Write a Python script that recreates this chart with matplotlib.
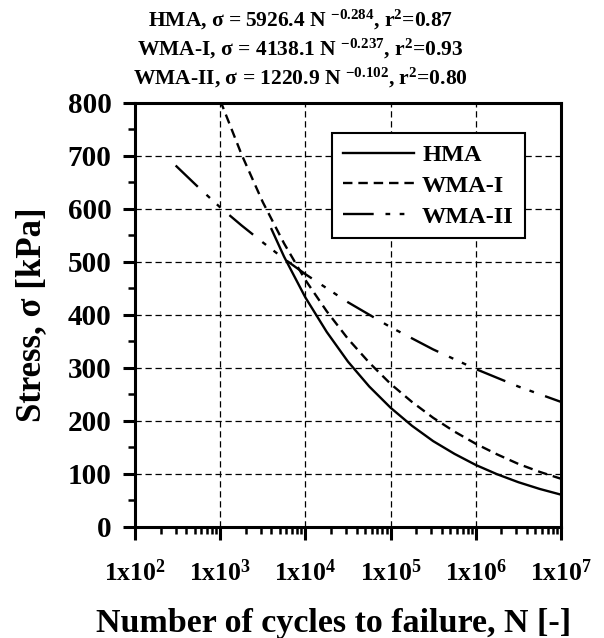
import numpy as np
import matplotlib
matplotlib.use("Agg")
import matplotlib.pyplot as plt
from matplotlib.ticker import LogLocator, FuncFormatter, NullFormatter, MultipleLocator

plt.rcParams['font.family'] = ['Liberation Serif', 'DejaVu Serif']
plt.rcParams['font.weight'] = 'bold'
plt.rcParams['mathtext.default'] = 'regular'

# values
n_hma = [4000, 5620, 1e4, 1.78e4, 3.16e4, 5.62e4, 1e5, 1.78e5, 3.16e5, 5.62e5,
         1e6, 1.78e6, 3.16e6, 5.62e6, 1e7]
s_hma = [562, 510, 433, 368, 312, 265, 225, 191, 162, 138, 117, 99.5, 84.5, 71.8, 61]

n_wma1 = [1e3, 1780, 3160, 5620, 1e4, 1.78e4, 3.16e4, 5.62e4, 1e5, 1.78e5, 3.16e5,
          5.62e5, 1e6, 1.78e6, 3.16e6, 5.62e6, 1e7]
s_wma1 = [805, 703, 613, 535, 466, 407, 355, 310, 270, 236, 206, 180, 157, 137, 119, 104, 91]

n_wma2 = [300, 562, 1e3, 1780, 3160, 5620, 1e4, 3.16e4, 1e5, 3.16e5, 1e6, 3.16e6, 1e7]
s_wma2 = [682, 640, 603, 569, 537, 506, 477, 424, 377, 335, 298, 265, 236]

fits = ["HMA, σ = 5926.4 N $^{-0.284}$, r$^{2}$=0.87",
        "WMA-I, σ = 4138.1 N $^{-0.237}$, r$^{2}$=0.93",
        "WMA-II, σ = 1220.9 N $^{-0.102}$, r$^{2}$=0.80"]

fig = plt.figure(figsize=(6.04, 6.38), dpi=100)
ax = fig.add_axes([0.2235, 0.174, 0.7053, 0.6646])

ax.plot(n_hma, s_hma, color='k', lw=1.7, ls='-', label='HMA')
ax.plot(n_wma1, s_wma1, color='k', lw=1.7, ls=(0, (4, 2.5)), label='WMA-I')
ax.plot(n_wma2, s_wma2, color='k', lw=1.7, ls=(0, (13, 5, 2, 4, 2, 5)), label='WMA-II')

ax.set_xscale('log')
ax.set_xlim(1e2, 1e7)
ax.set_ylim(0, 800)
ax.xaxis.set_major_locator(LogLocator(base=10, numticks=10))
ax.xaxis.set_minor_locator(LogLocator(base=10, subs=np.arange(2, 10), numticks=20))
ax.xaxis.set_major_formatter(FuncFormatter(lambda v, p: "1x10$^{%d}$" % int(round(np.log10(v)))))
ax.xaxis.set_minor_formatter(NullFormatter())
ax.yaxis.set_major_locator(MultipleLocator(100))
ax.yaxis.set_minor_locator(MultipleLocator(50))

ax.grid(True, which='major', color='k', lw=0.9, ls=(0, (5, 3)))
for s in ax.spines.values():
    s.set_linewidth(2.2)
ax.tick_params(which='major', direction='out', length=9, width=2.2, pad=4)
ax.tick_params(which='minor', direction='out', length=5, width=1.8)
ax.tick_params(axis='x', which='major', labelsize=18.5, pad=14)
ax.tick_params(axis='y', which='major', labelsize=21, pad=8)

ax.set_xlabel("Number of cycles to failure, N [-]", fontsize=24.5, fontweight='bold')
ax.xaxis.set_label_coords(0.465, -0.19)
ax.set_ylabel("Stress, σ [kPa]", fontsize=25, fontweight='bold', labelpad=14)

leg = ax.legend(loc='upper right', bbox_to_anchor=(0.915, 0.929), fontsize=17.5,
                handlelength=2.9, handletextpad=0.35, fancybox=False, framealpha=1,
                edgecolor='k', borderpad=0.45, labelspacing=0.36, borderaxespad=0)
leg.get_frame().set_linewidth(1.5)

for i, t in enumerate(fits):
    fig.text(0.497, 1 - (20 + 29 * i) / 638, t, ha='center', va='center',
             fontsize=15.5, fontweight='bold')

fig.savefig("out.png", dpi=100)
